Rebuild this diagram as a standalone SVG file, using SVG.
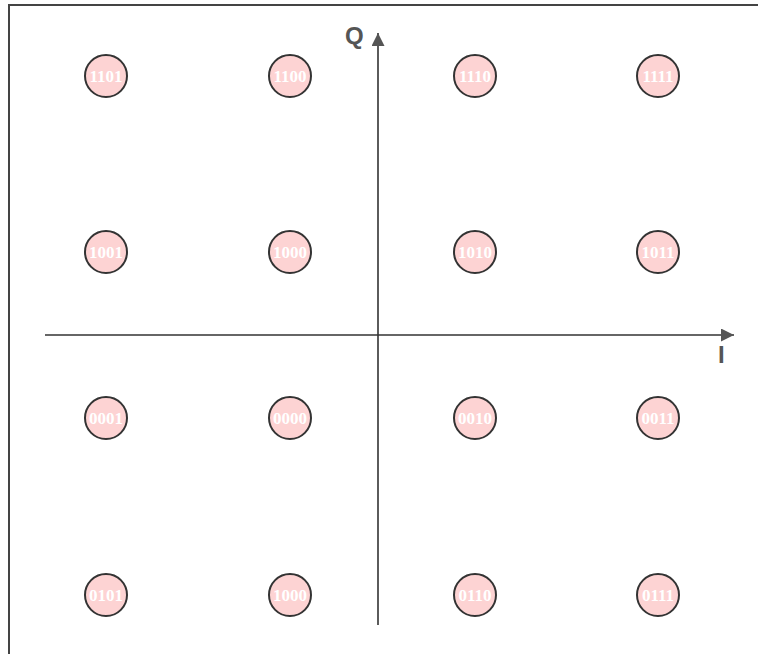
<svg xmlns="http://www.w3.org/2000/svg" width="758" height="654" viewBox="0 0 758 654">
<style>
.pt circle{fill:#fdd3d3;stroke:#333;stroke-width:2}
.pt text{fill:#fff;font-family:"Liberation Serif",serif;font-weight:bold;font-size:17px;text-anchor:middle;dominant-baseline:central}
.ax{stroke:#333;stroke-width:1.6;fill:none}
.lbl{fill:#555;font-family:"Liberation Sans",sans-serif;font-weight:bold;font-size:24px}
</style>
<defs>
<marker id="ah" viewBox="0 0 10 10" refX="10" refY="5" markerWidth="13" markerHeight="13" markerUnits="userSpaceOnUse" orient="auto">
<path d="M0,0 L10,5 L0,10 Z" fill="#555"/>
</marker>
</defs>
<rect x="9" y="5" width="760" height="660" fill="#fff" stroke="#444" stroke-width="2"/>
<g id="connectors">
<line class="ax" x1="378" y1="625" x2="378" y2="33" marker-end="url(#ah)"/>
<line class="ax" x1="45" y1="335" x2="734" y2="335" marker-end="url(#ah)"/>
</g>
<text class="lbl" x="345" y="44">Q</text>
<text class="lbl" x="718" y="363">I</text>
<g id="n1101" class="pt"><circle cx="106" cy="76" r="21"/><text x="106" y="76">1101</text></g>
<g id="n1100" class="pt"><circle cx="290" cy="76" r="21"/><text x="290" y="76">1100</text></g>
<g id="n1110" class="pt"><circle cx="475" cy="76" r="21"/><text x="475" y="76">1110</text></g>
<g id="n1111" class="pt"><circle cx="658" cy="76" r="21"/><text x="658" y="76">1111</text></g>
<g id="n1001" class="pt"><circle cx="106" cy="252" r="21"/><text x="106" y="252">1001</text></g>
<g id="n1000" class="pt"><circle cx="290" cy="252" r="21"/><text x="290" y="252">1000</text></g>
<g id="n1010" class="pt"><circle cx="475" cy="252" r="21"/><text x="475" y="252">1010</text></g>
<g id="n1011" class="pt"><circle cx="658" cy="252" r="21"/><text x="658" y="252">1011</text></g>
<g id="n0001" class="pt"><circle cx="106" cy="418" r="21"/><text x="106" y="418">0001</text></g>
<g id="n0000" class="pt"><circle cx="290" cy="418" r="21"/><text x="290" y="418">0000</text></g>
<g id="n0010" class="pt"><circle cx="475" cy="418" r="21"/><text x="475" y="418">0010</text></g>
<g id="n0011" class="pt"><circle cx="658" cy="418" r="21"/><text x="658" y="418">0011</text></g>
<g id="n0101" class="pt"><circle cx="106" cy="595" r="21"/><text x="106" y="595">0101</text></g>
<g id="n1000b" class="pt"><circle cx="290" cy="595" r="21"/><text x="290" y="595">1000</text></g>
<g id="n0110" class="pt"><circle cx="475" cy="595" r="21"/><text x="475" y="595">0110</text></g>
<g id="n0111" class="pt"><circle cx="658" cy="595" r="21"/><text x="658" y="595">0111</text></g>
</svg>
